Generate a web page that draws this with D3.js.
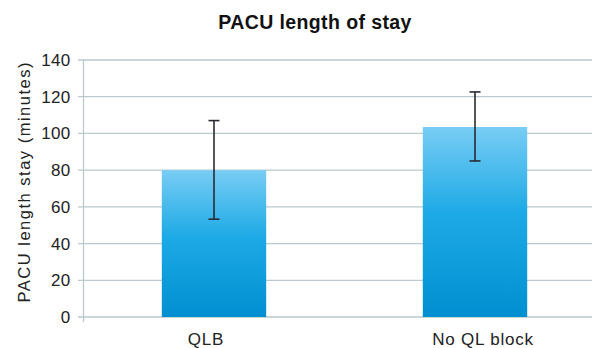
<!DOCTYPE html>
<html><head><meta charset="utf-8">
<script src="https://cdn.jsdelivr.net/npm/d3@7"></script>
<style>body{margin:0;background:#fff}svg{display:block}</style>
</head><body>
<svg id="c" width="592" height="348"></svg>
<script>
const categories = ["QLB", "No QL block"];
const means = [80, 103.5];
const errLow = [53.3, 85];
const errHigh = [107, 122.6];
const yTicks = [0, 20, 40, 60, 80, 100, 120, 140];

const svg = d3.select("#c");
const font = "'Liberation Sans', Arial, Helvetica, sans-serif";
const x = d3.scaleBand().domain(categories).range([83.5, 605.5]).paddingInner(0.6).paddingOuter(0.3);
const y = d3.scaleLinear().domain([0, 140]).range([317, 60]);

const defs = svg.append("defs");
const g = defs.append("linearGradient").attr("id", "bg").attr("x1", 0).attr("y1", 0).attr("x2", 0).attr("y2", 1);
g.append("stop").attr("offset", "0%").attr("stop-color", "#78cdf4");
g.append("stop").attr("offset", "45%").attr("stop-color", "#1eaae6");
g.append("stop").attr("offset", "100%").attr("stop-color", "#008fd1");

// gridlines
svg.append("g").selectAll("line").data(yTicks).join("line")
  .attr("x1", 78).attr("x2", 592)
  .attr("y1", d => y(d)).attr("y2", d => y(d))
  .attr("stroke", "#b9c9cd").attr("stroke-width", 1.3);

// y axis
const yAxis = svg.append("g").attr("transform", "translate(83.5,0)")
  .call(d3.axisLeft(y).tickValues(yTicks).tickSize(0).tickPadding(13));
yAxis.select(".domain").remove();
yAxis.selectAll("text").attr("font-family", font).attr("font-size", 17).attr("fill", "#222")
  .attr("letter-spacing", 0.3);
svg.append("line").attr("x1", 83.5).attr("x2", 83.5).attr("y1", y(140)).attr("y2", y(0) + 5)
  .attr("stroke", "#b9c9cd").attr("stroke-width", 1.3);

// bars
svg.append("g").selectAll("rect").data(categories).join("rect")
  .attr("x", d => x(d)).attr("width", x.bandwidth())
  .attr("y", (d, i) => y(means[i])).attr("height", (d, i) => y(0) - y(means[i]))
  .attr("fill", "url(#bg)");

// error bars
const eb = svg.append("g").attr("stroke", "#2a2a35").attr("stroke-width", 1.6);
categories.forEach((c, i) => {
  const cx = x(c) + x.bandwidth() / 2;
  eb.append("line").attr("x1", cx).attr("x2", cx).attr("y1", y(errHigh[i])).attr("y2", y(errLow[i]));
  eb.append("line").attr("x1", cx - 5.5).attr("x2", cx + 5.5).attr("y1", y(errHigh[i])).attr("y2", y(errHigh[i]));
  eb.append("line").attr("x1", cx - 5.5).attr("x2", cx + 5.5).attr("y1", y(errLow[i])).attr("y2", y(errLow[i]));
});

// x labels
svg.append("g").selectAll("text").data(categories).join("text")
  .attr("x", (d, i) => x(d) + x.bandwidth() / 2 + (i === 0 ? -8 : 8)).attr("y", 345)
  .attr("text-anchor", "middle").attr("font-family", font).attr("font-size", 17).attr("fill", "#222")
  .attr("letter-spacing", 0.8)
  .text(d => d);

// title
svg.append("text").attr("x", 315).attr("y", 29).attr("text-anchor", "middle")
  .attr("font-family", font).attr("font-weight", "bold").attr("font-size", 19.5).attr("fill", "#111")
  .attr("letter-spacing", 0.4)
  .text("PACU length of stay");

// y label
svg.append("text").attr("transform", "translate(30,182.5) rotate(-90)").attr("text-anchor", "middle")
  .attr("font-family", font).attr("font-size", 16.5).attr("fill", "#222")
  .attr("textLength", 240).attr("lengthAdjust", "spacing")
  .text("PACU length stay (minutes)");
</script>
</body></html>
